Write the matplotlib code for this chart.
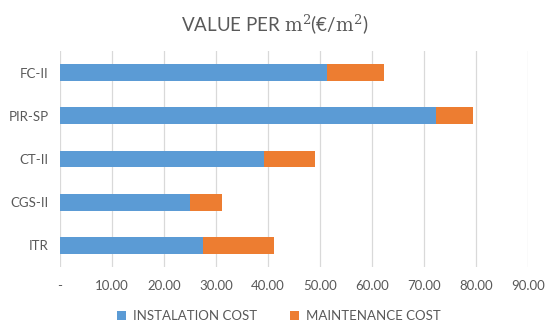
import matplotlib
matplotlib.use("Agg")
import matplotlib.pyplot as plt
from matplotlib.ticker import FuncFormatter

categories = ["ITR", "CGS-II", "CT-II", "PIR-SP", "FC-II"]
installation = [27.5, 25.0, 39.3, 72.4, 51.3]
maintenance = [13.7, 6.2, 9.7, 7.1, 11.1]
xticks = [0, 10, 20, 30, 40, 50, 60, 70, 80, 90]

BLUE = "#5B9BD5"
ORANGE = "#ED7D31"
TEXT = "#595959"
GRID = "#D9D9D9"

plt.rcParams.update({
    "font.family": ["Lato", "DejaVu Sans"],
    "mathtext.fontset": "dejavuserif",
})

fig = plt.figure(figsize=(5.5, 3.33), dpi=100)
ax = fig.add_axes([0.109, 0.198, 0.8505, 0.649])

ypos = range(len(categories))
ax.barh(ypos, installation, height=0.39, color=BLUE, label="INSTALATION COST", zorder=3)
ax.barh(ypos, maintenance, left=installation, height=0.39, color=ORANGE,
        label="MAINTENANCE COST", zorder=3)

ax.set_xlim(0, 90)
ax.set_ylim(-0.5, len(categories) - 0.5)
ax.set_xticks(xticks)
ax.xaxis.set_major_formatter(FuncFormatter(lambda v, p: "-" if v == 0 else f"{v:.2f}"))
ax.set_yticks(list(ypos))
ax.set_yticklabels(categories)
ax.tick_params(axis="both", length=0, colors=TEXT, labelsize=9.5)
ax.tick_params(axis="x", pad=9)
ax.tick_params(axis="y", pad=8)
ax.grid(axis="x", color=GRID, linewidth=0.9, zorder=0)
for s in ax.spines.values():
    s.set_visible(False)

fig.suptitle(r"VALUE PER $\mathrm{m}^2$(€/$\mathrm{m}^2$)", x=0.5, y=0.965,
             fontsize=13.5, color=TEXT)

ax.legend(loc="center", bbox_to_anchor=(0.468, -0.227), ncol=2, frameon=False,
          fontsize=9.5, handlelength=0.7, handleheight=0.7, columnspacing=2.5,
          handletextpad=0.5, labelcolor=TEXT)

fig.savefig("out.png", dpi=100, facecolor="white")
